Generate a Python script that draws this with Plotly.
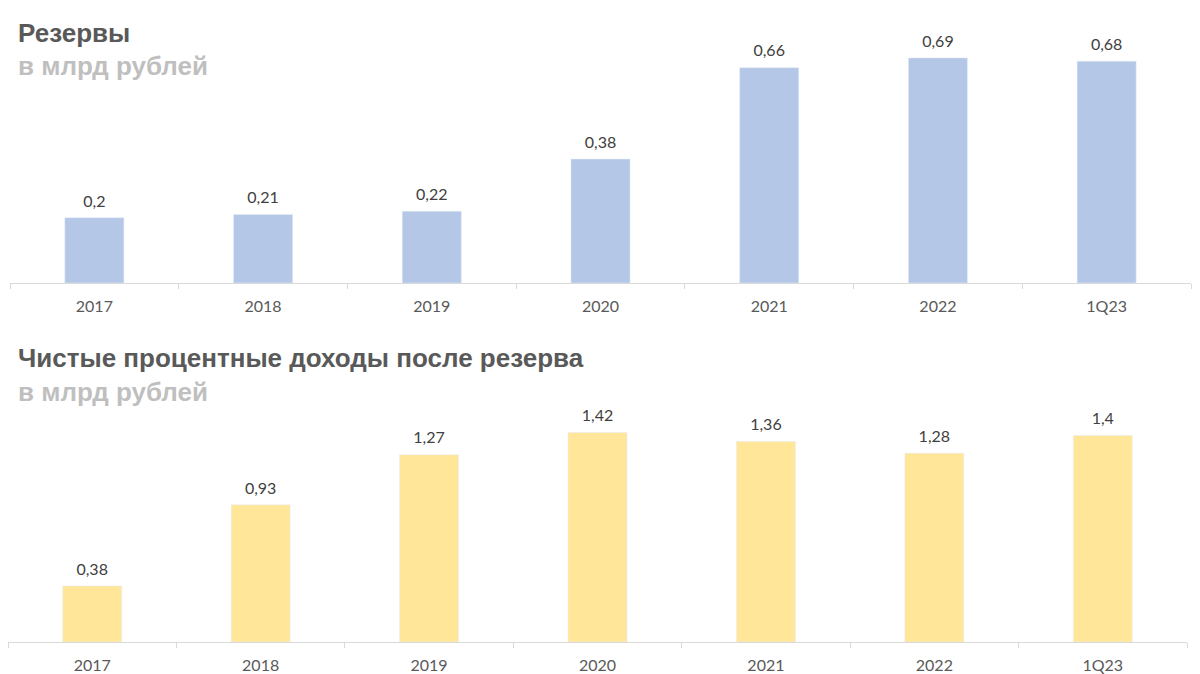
import plotly.graph_objects as go

categories = ["2017", "2018", "2019", "2020", "2021", "2022", "1Q23"]
reserves = [0.2, 0.21, 0.22, 0.38, 0.66, 0.69, 0.68]
reserves_labels = ["0,2", "0,21", "0,22", "0,38", "0,66", "0,69", "0,68"]
nii = [0.38, 0.93, 1.27, 1.42, 1.36, 1.28, 1.4]
nii_labels = ["0,38", "0,93", "1,27", "1,42", "1,36", "1,28", "1,4"]

W, H = 1200, 674
OFF = 8  # page body margin compensation
LABEL_FONT = "Lato, Open Sans, sans-serif"
TITLE_FONT = "Liberation Sans, Arial, sans-serif"


def px_x(x):
    return min(1.0, max(0.0, (x - OFF) / W))


def px_y(y):
    return min(1.0, max(0.0, 1 - (y - OFF) / H))


fig = go.Figure()
fig.add_trace(go.Bar(x=categories, y=reserves, marker_color="#B4C7E7",
                     xaxis="x", yaxis="y", hoverinfo="skip"))
fig.add_trace(go.Bar(x=categories, y=nii, marker_color="#FFE699",
                     xaxis="x2", yaxis="y2", hoverinfo="skip"))

label_font = dict(family=LABEL_FONT, size=16, color="#404040")
fig.add_trace(go.Scatter(x=categories, y=reserves, text=reserves_labels, mode="markers+text",
                         textposition="top center", textfont=label_font,
                         marker=dict(size=10, opacity=0), xaxis="x", yaxis="y",
                         hoverinfo="skip", cliponaxis=False))
fig.add_trace(go.Scatter(x=categories, y=nii, text=nii_labels, mode="markers+text",
                         textposition="top center", textfont=label_font,
                         marker=dict(size=10, opacity=0), xaxis="x2", yaxis="y2",
                         hoverinfo="skip", cliponaxis=False))


def title(text, y_px, color):
    return dict(x=px_x(16), y=px_y(y_px), xref="paper", yref="paper", text="<b>%s</b>" % text,
                showarrow=False, xanchor="left", yanchor="middle",
                font=dict(family=TITLE_FONT, size=26, color=color))


annotations = [
    title("Резервы", 33, "#595959"),
    title("в млрд рублей", 66, "#BFBFBF"),
    title("Чистые процентные доходы после резерва", 358, "#595959"),
    title("в млрд рублей", 392, "#BFBFBF"),
]

xcommon = dict(type="category", showgrid=False, showline=True, linecolor="#D9D9D9", linewidth=1,
               ticks="outside", tickson="boundaries", ticklen=5, tickcolor="#D9D9D9",
               tickfont=dict(family=LABEL_FONT, size=16, color="#595959"),
               ticklabelstandoff=9, fixedrange=True, tickangle=0)
ycommon = dict(visible=False, showgrid=False, zeroline=False, fixedrange=True)

fig.update_layout(
    width=W, height=H, margin=dict(l=0, r=0, t=0, b=0),
    paper_bgcolor="white", plot_bgcolor="white",
    showlegend=False, bargap=0.65,
    xaxis=dict(domain=[px_x(10), px_x(1191)], anchor="y", **xcommon),
    yaxis=dict(domain=[px_y(283), px_y(22)], range=[0, 0.8], anchor="x", **ycommon),
    xaxis2=dict(domain=[px_x(6), px_x(1187)], anchor="y2", **xcommon),
    yaxis2=dict(domain=[px_y(642), px_y(406)], range=[0, 1.6], anchor="x2", **ycommon),
    annotations=annotations,
)

fig.write_html("out.html")
